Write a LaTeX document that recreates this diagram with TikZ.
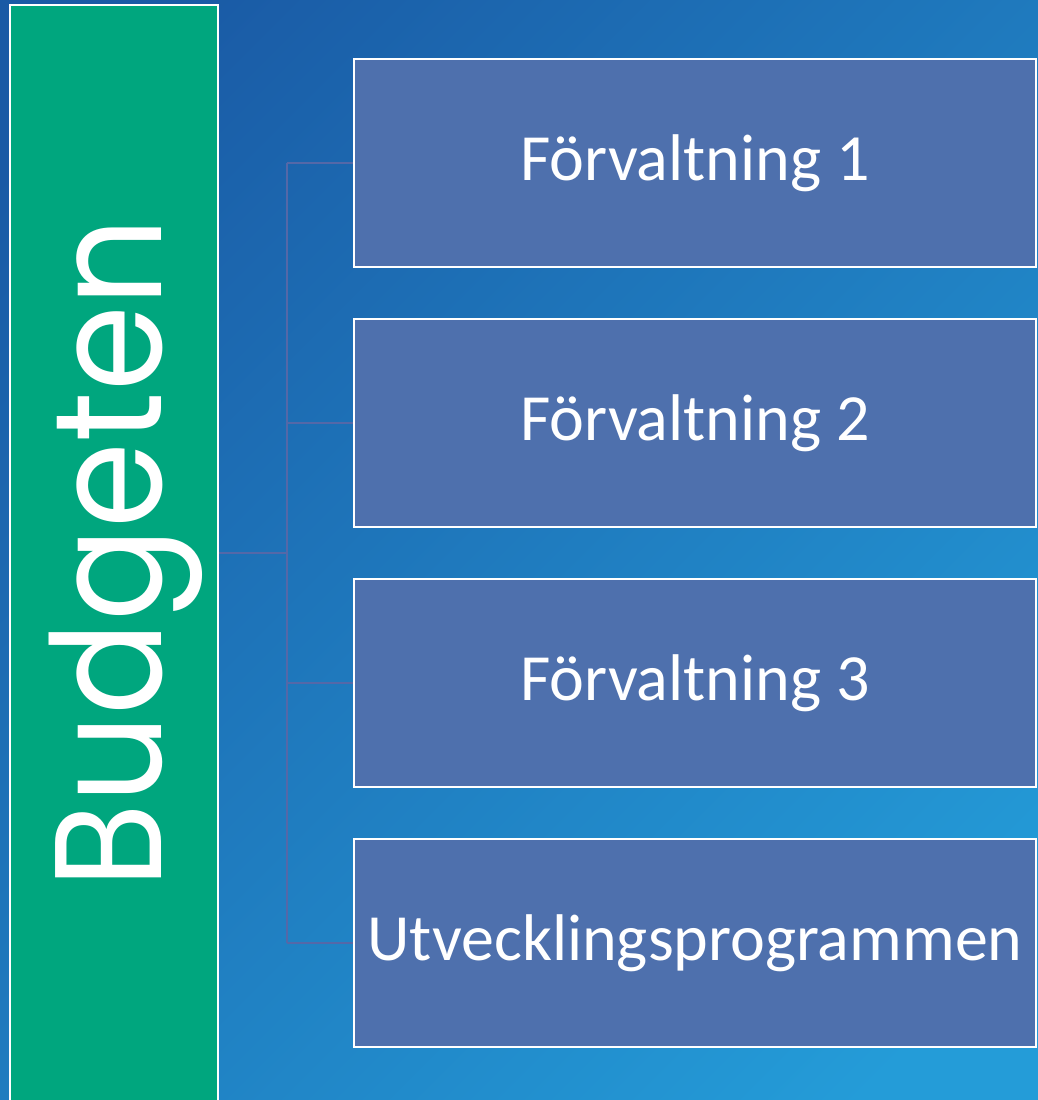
\documentclass[tikz,border=0pt]{standalone}
\usepackage{fontspec}
\setmainfont{Carlito}
\newfontfamily\geofont{Poppins}
\definecolor{bgA}{HTML}{1A5AA5}
\definecolor{bgB}{HTML}{249CD8}
\definecolor{greenbox}{HTML}{00A67E}
\definecolor{bluebox}{HTML}{4E70AD}
\definecolor{linkc}{HTML}{5468A8}
\begin{document}
\begin{tikzpicture}[x=1pt,y=-1pt,
  itembox/.style={draw=white,line width=2.5pt,fill=bluebox,minimum width=682pt,minimum height=208pt,inner sep=0pt,text=white,font=\fontsize{66}{68}\selectfont},
  rootbox/.style={draw=white,line width=2.5pt,fill=greenbox,minimum width=208pt,minimum height=1097pt,inner sep=0pt},
  link/.style={draw=linkc,line width=2.6pt}]
\useasboundingbox (0,0) rectangle (1038,1100);
\clip (0,0) rectangle (1038,1100);
\shade[top color=bgA,bottom color=bgB,shading angle=45] (-100,-100) rectangle (1138,1200);
\node[rootbox] (root) at (114,553.5) {};
\node[text=white,rotate=90,font=\geofont\fontsize{152}{152}\selectfont] (rootlabel) at (126,553) {\scalebox{0.91}[1]{Budgeten}};
\node[itembox] (f1) at (695,163) {\raisebox{-4pt}{Förvaltning 1}};
\node[itembox] (f2) at (695,423) {\raisebox{-4pt}{Förvaltning 2}};
\node[itembox] (f3) at (695,683) {\raisebox{-4pt}{Förvaltning 3}};
\node[itembox] (f4) at (695,943) {\raisebox{-4pt}{Utvecklingsprogrammen}};
\coordinate (hub) at (287,553);
\coordinate (top) at (287,163);
\coordinate (bot) at (287,943);
\draw[link] (root.east |- hub) -- (hub);
\draw[link] (top) -- (bot);
\draw[link] (top) -- (f1.west);
\draw[link] (287,423) -- (f2.west);
\draw[link] (287,683) -- (f3.west);
\draw[link] (bot) -- (f4.west);
\end{tikzpicture}
\end{document}
